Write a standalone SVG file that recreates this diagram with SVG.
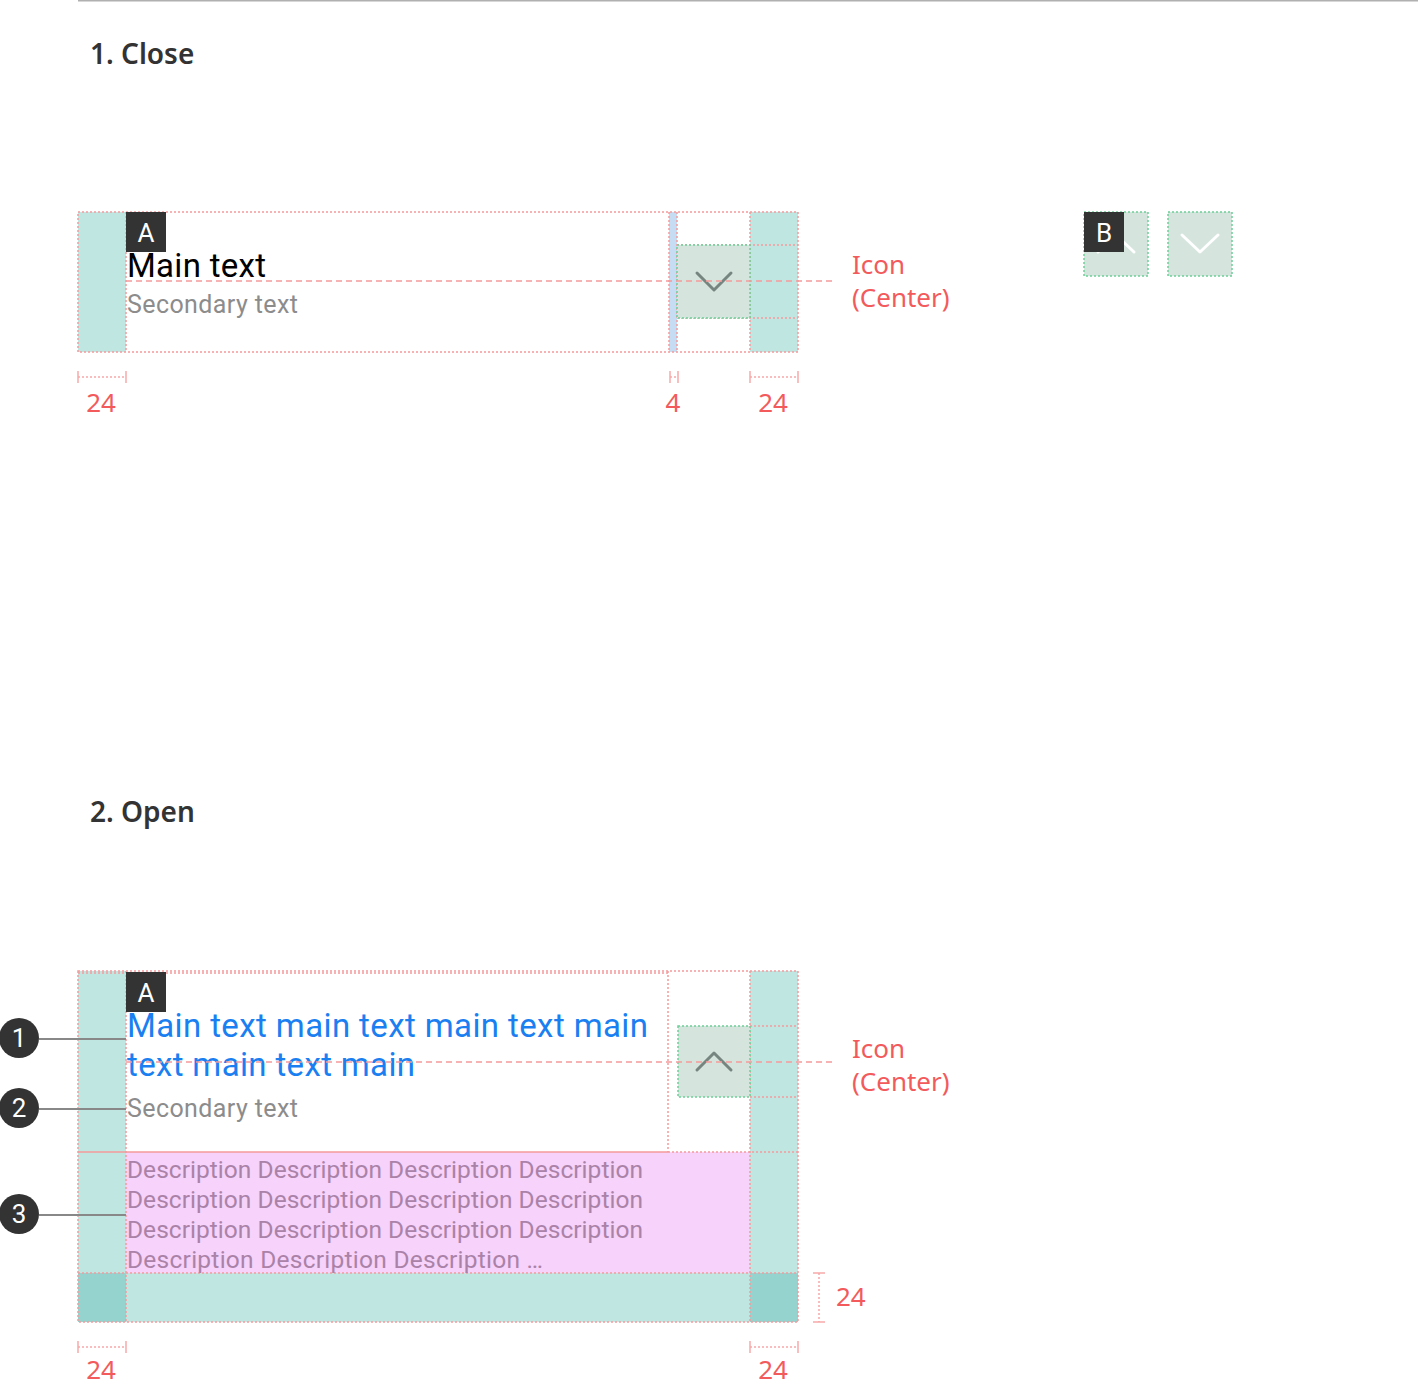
<svg xmlns="http://www.w3.org/2000/svg" width="1418" height="1386" viewBox="0 0 1418 1386">
<style>
.bg{fill:#fff}
.teal{fill:#c0e6e2}
.dteal{fill:#94d3ce}
.dot{fill:none;stroke:#f59a9a;stroke-width:1.5;stroke-dasharray:2 2}
.dash{fill:none;stroke:#f59a9a;stroke-width:1.5;stroke-dasharray:6 4}
.gdot{fill:#d5e5de;stroke:#6ccf98;stroke-width:1.5;stroke-dasharray:2 2}
.chev{fill:none;stroke:#76857f;stroke-width:3;stroke-linecap:round;stroke-linejoin:round}
.wchev{fill:none;stroke:#fff;stroke-width:3;stroke-linecap:round;stroke-linejoin:round}
.h{font-family:"Noto Sans","Open Sans",sans-serif;font-weight:600;font-size:28px;fill:#333}
.main{font-family:Roboto,"Liberation Sans",sans-serif;font-size:33px;fill:#000}
.blue{font-family:Roboto,"Liberation Sans",sans-serif;font-size:33px;fill:#1a80f2}
.sec{font-family:Roboto,"Liberation Sans",sans-serif;font-size:25px;fill:#8c8c8c}
.desc{font-family:Roboto,"Liberation Sans",sans-serif;font-size:24.5px;fill:#aa82a8}
.red{font-family:"Noto Sans","Open Sans",sans-serif;font-size:26px;fill:#f25a5c}
.badge{fill:#333}
.bt{font-family:Roboto,"Liberation Sans",sans-serif;font-size:26px;fill:#fff;text-anchor:middle}
.meas{fill:none;stroke:#f7a8a8;stroke-width:1.5}
.mdot{fill:none;stroke:#f7a8a8;stroke-width:1.5;stroke-dasharray:2 2}
.lead{stroke:#888;stroke-width:2}
</style>
<rect class="bg" width="1418" height="1386"/>
<line x1="78" y1="0.75" x2="1418" y2="0.75" stroke="#b0b0b0" stroke-width="1.5"/>

<g id="heading-close"><text class="h" x="90" y="64">1. Close</text></g>
<g id="heading-open"><text class="h" x="90" y="822">2. Open</text></g>

<!-- Section 1 -->
<g id="close-item">
  <rect class="teal" x="78" y="212" width="48" height="140"/>
  <rect class="teal" x="750" y="212" width="48" height="140"/>
  <rect x="669" y="212" width="8" height="140" fill="#c6dcf2"/>
  <rect class="dot" x="78" y="212" width="720" height="140"/>
  <line class="dot" x1="126" y1="212" x2="126" y2="352"/>
  <line class="dot" x1="669" y1="212" x2="669" y2="352"/>
  <line class="dot" x1="677" y1="212" x2="677" y2="352"/>
  <line class="dot" x1="750" y1="212" x2="750" y2="352"/>
  <line class="dot" x1="677" y1="245" x2="798" y2="245"/>
  <line class="dot" x1="677" y1="318" x2="798" y2="318"/>
  <text class="main" x="127" y="277" textLength="139">Main text</text>
  <text class="sec" x="127" y="313" textLength="171">Secondary text</text>
</g>
<g id="close-icon">
  <rect class="gdot" x="677" y="245" width="73" height="73"/>
  <polyline class="chev" points="697,273 714,290 731,273"/>
</g>
<g id="close-badge-a">
  <rect class="badge" x="126" y="212" width="40" height="40"/>
  <text class="bt" x="146" y="242">A</text>
</g>
<g id="close-center-line"><line class="dash" x1="126" y1="281" x2="835" y2="281"/></g>
<g id="close-icon-label">
  <text class="red" x="852" y="274">Icon</text>
  <text class="red" x="852" y="307">(Center)</text>
</g>
<g id="close-measures">
  <line class="mdot" x1="78" y1="377" x2="126" y2="377"/>
  <line class="meas" x1="78" y1="371" x2="78" y2="383"/>
  <line class="meas" x1="126" y1="371" x2="126" y2="383"/>
  <text class="red" x="101" y="412" text-anchor="middle">24</text>
  <line class="mdot" x1="670" y1="377" x2="678" y2="377"/>
  <line class="meas" x1="670" y1="371" x2="670" y2="383"/>
  <line class="meas" x1="678" y1="371" x2="678" y2="383"/>
  <text class="red" x="673" y="412" text-anchor="middle">4</text>
  <line class="mdot" x1="750" y1="377" x2="798" y2="377"/>
  <line class="meas" x1="750" y1="371" x2="750" y2="383"/>
  <line class="meas" x1="798" y1="371" x2="798" y2="383"/>
  <text class="red" x="773" y="412" text-anchor="middle">24</text>
</g>

<g id="icon-up-white">
  <rect class="gdot" x="1084" y="212" width="64" height="64"/>
  <polyline class="wchev" points="1098,252 1116,235 1134,252"/>
</g>
<g id="badge-b">
  <rect class="badge" x="1084" y="212" width="40" height="40"/>
  <text class="bt" x="1104" y="242">B</text>
</g>
<g id="icon-down-white">
  <rect class="gdot" x="1168" y="212" width="64" height="64"/>
  <polyline class="wchev" points="1182,235 1200,252 1218,235"/>
</g>

<!-- Section 2 -->
<g id="open-item">
  <rect class="teal" x="78" y="971" width="48" height="302"/>
  <rect class="teal" x="750" y="971" width="48" height="302"/>
  <rect class="teal" x="78" y="1273" width="720" height="49"/>
  <rect class="dteal" x="78" y="1273" width="48" height="49"/>
  <rect class="dteal" x="750" y="1273" width="48" height="49"/>
  <rect x="126" y="1152" width="624" height="121" fill="#f7d2fa"/>
  <rect class="dot" x="78" y="971" width="720" height="351"/>
  <line class="dot" x1="78" y1="973" x2="668" y2="973"/>
  <line class="dot" x1="126" y1="971" x2="126" y2="1322"/>
  <line class="dot" x1="668" y1="971" x2="668" y2="1152"/>
  <line class="dot" x1="750" y1="971" x2="750" y2="1322"/>
  <line class="dot" x1="750" y1="1026" x2="798" y2="1026"/>
  <line class="dot" x1="750" y1="1097" x2="798" y2="1097"/>
  <line x1="78" y1="1152" x2="668" y2="1152" stroke="#f59a9a" stroke-width="1.5"/>
  <line class="dot" x1="668" y1="1152" x2="798" y2="1152"/>
  <line class="dot" x1="78" y1="1273" x2="798" y2="1273"/>
  <text class="blue" x="127" y="1037" textLength="521">Main text main text main text main</text>
  <text class="blue" x="127" y="1076" textLength="288">text main text main</text>
  <text class="sec" x="127" y="1117" textLength="171">Secondary text</text>
  <text class="desc" x="127" y="1178" textLength="516">Description Description Description Description</text>
  <text class="desc" x="127" y="1208" textLength="516">Description Description Description Description</text>
  <text class="desc" x="127" y="1238" textLength="516">Description Description Description Description</text>
  <text class="desc" x="127" y="1268" textLength="416">Description Description Description …</text>
</g>
<g id="open-icon">
  <rect class="gdot" x="678" y="1026" width="72" height="71"/>
  <polyline class="chev" points="697,1070 714,1053 731,1070"/>
</g>
<g id="open-badge-a">
  <rect class="badge" x="126" y="972" width="40" height="40"/>
  <text class="bt" x="146" y="1002">A</text>
</g>
<g id="open-center-line"><line class="dash" x1="126" y1="1062" x2="835" y2="1062"/></g>
<g id="open-icon-label">
  <text class="red" x="852" y="1058">Icon</text>
  <text class="red" x="852" y="1091">(Center)</text>
</g>

<g id="connectors">
  <line class="lead" x1="39" y1="1039" x2="126" y2="1039"/>
  <line class="lead" x1="39" y1="1109" x2="126" y2="1109"/>
  <line class="lead" x1="39" y1="1215" x2="126" y2="1215"/>
</g>
<g id="callout-1">
  <circle cx="19" cy="1038" r="20" fill="#333"/>
  <text class="bt" x="19" y="1047">1</text>
</g>
<g id="callout-2">
  <circle cx="19" cy="1108" r="20" fill="#333"/>
  <text class="bt" x="19" y="1117">2</text>
</g>
<g id="callout-3">
  <circle cx="19" cy="1214" r="20" fill="#333"/>
  <text class="bt" x="19" y="1223">3</text>
</g>

<g id="open-measures">
  <line class="mdot" x1="78" y1="1347" x2="126" y2="1347"/>
  <line class="meas" x1="78" y1="1341" x2="78" y2="1353"/>
  <line class="meas" x1="126" y1="1341" x2="126" y2="1353"/>
  <text class="red" x="101" y="1379" text-anchor="middle">24</text>
  <line class="mdot" x1="750" y1="1347" x2="798" y2="1347"/>
  <line class="meas" x1="750" y1="1341" x2="750" y2="1353"/>
  <line class="meas" x1="798" y1="1341" x2="798" y2="1353"/>
  <text class="red" x="773" y="1379" text-anchor="middle">24</text>
  <line class="mdot" x1="819" y1="1273" x2="819" y2="1322"/>
  <line class="meas" x1="813" y1="1273" x2="825" y2="1273"/>
  <line class="meas" x1="813" y1="1322" x2="825" y2="1322"/>
  <text class="red" x="836" y="1306">24</text>
</g>
</svg>
